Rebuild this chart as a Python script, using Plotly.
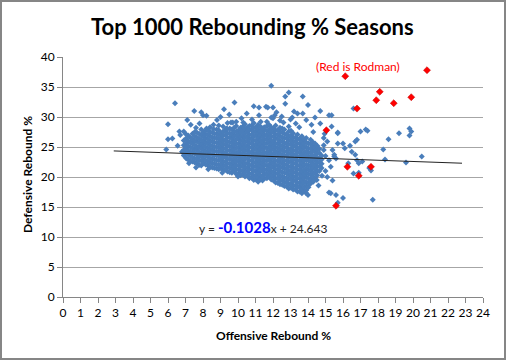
import plotly.graph_objects as go

# ---------------- data ----------------
# Dense core of the cloud: (offensive reb %, [defensive reb % values])
core_columns = [
    (6.9,  [23.6, 24.5, 25.3, 26.1]),
    (7.03, [23.2, 24.0, 24.8, 25.6, 26.4]),
    (7.15, [22.9, 23.8, 24.4, 25.2, 26.0, 26.9]),
    (7.28, [22.7, 23.5, 24.2, 25.0, 25.8, 26.6]),
    (7.4,  [22.6, 23.3, 24.1, 24.8, 25.6, 26.3, 27.2]),
    (7.53, [22.4, 23.1, 23.9, 24.6, 25.3, 26.0, 26.8, 27.5]),
    (7.65, [22.3, 23.0, 23.7, 24.5, 25.1, 25.9, 26.6, 27.4]),
    (7.78, [22.0, 22.8, 23.5, 24.2, 25.0, 25.7, 26.4, 27.2]),
    (7.9,  [21.9, 22.7, 23.4, 24.0, 24.8, 25.5, 26.2, 27.0, 27.9]),
    (8.03, [22.3, 23.0, 23.8, 24.5, 25.2, 25.9, 26.7, 27.4]),
    (8.15, [22.1, 22.8, 23.5, 24.3, 25.0, 25.7, 26.4, 27.1, 27.7]),
    (8.28, [21.9, 22.6, 23.4, 24.1, 24.8, 25.6, 26.3, 27.0, 27.8]),
    (8.4,  [21.7, 22.4, 23.1, 23.9, 24.6, 25.3, 26.0, 26.8, 27.5, 28.3]),
    (8.53, [21.6, 22.3, 23.0, 23.7, 24.5, 25.2, 25.9, 26.6, 27.4]),
    (8.65, [21.5, 22.2, 22.9, 23.6, 24.3, 25.0, 25.8, 26.5, 27.2]),
    (8.78, [21.4, 22.1, 22.8, 23.6, 24.3, 25.0, 25.7, 26.5, 27.2, 27.9]),
    (8.9,  [21.3, 22.0, 22.8, 23.5, 24.2, 24.9, 25.6, 26.3, 27.0, 27.8]),
    (9.03, [21.5, 22.2, 22.9, 23.6, 24.4, 25.1, 25.8, 26.5, 27.3]),
    (9.15, [21.1, 21.8, 22.5, 23.2, 24.0, 24.7, 25.4, 26.1, 26.9, 27.6, 28.4]),
    (9.28, [21.2, 21.9, 22.6, 23.4, 24.1, 24.8, 25.5, 26.2, 27.0, 27.7]),
    (9.4,  [20.9, 21.6, 22.3, 23.0, 23.7, 24.4, 25.2, 25.9, 26.6, 27.3, 28.0]),
    (9.53, [20.8, 21.5, 22.2, 23.0, 23.7, 24.4, 25.1, 25.8, 26.6, 27.3, 28.1]),
    (9.65, [20.7, 21.4, 22.1, 22.8, 23.6, 24.3, 25.0, 25.7, 26.4, 27.1, 27.9]),
    (9.78, [21.0, 21.7, 22.4, 23.1, 23.9, 24.6, 25.3, 26.0, 26.8, 27.5, 28.2]),
    (9.9,  [20.5, 21.2, 21.9, 22.6, 23.3, 24.0, 24.8, 25.5, 26.2, 26.9, 27.6, 28.5]),
    (10.03, [20.6, 21.3, 22.0, 22.8, 23.5, 24.2, 24.9, 25.6, 26.4, 27.1, 27.8]),
    (10.15, [20.3, 21.0, 21.7, 22.4, 23.1, 23.9, 24.6, 25.3, 26.0, 26.7, 27.5, 28.2]),
    (10.28, [20.4, 21.1, 21.9, 22.6, 23.3, 24.0, 24.8, 25.5, 26.2, 26.9, 27.7, 28.4]),
    (10.4, [20.1, 20.8, 21.5, 22.2, 23.0, 23.7, 24.4, 25.1, 25.8, 26.6, 27.3, 28.0, 28.8]),
    (10.53, [20.2, 20.9, 21.6, 22.3, 23.1, 23.8, 24.5, 25.2, 26.0, 26.7, 27.4, 28.2]),
    (10.65, [19.8, 20.5, 21.3, 22.0, 22.7, 23.4, 24.1, 24.9, 25.6, 26.3, 27.0, 27.8, 28.5]),
    (10.78, [19.9, 20.6, 21.3, 22.0, 22.8, 23.5, 24.2, 24.9, 25.7, 26.4, 27.1, 27.9, 28.6]),
    (10.9, [19.5, 20.2, 21.0, 21.7, 22.4, 23.2, 23.9, 24.6, 25.3, 26.1, 26.8, 27.5, 28.2, 29.0]),
    (11.03, [19.6, 20.3, 21.0, 21.8, 22.5, 23.2, 23.9, 24.7, 25.4, 26.1, 26.9, 27.6, 28.3]),
    (11.15, [19.2, 19.9, 20.7, 21.4, 22.1, 22.9, 23.6, 24.3, 25.0, 25.8, 26.5, 27.2, 27.9, 28.7]),
    (11.28, [19.6, 20.3, 21.1, 21.8, 22.5, 23.2, 24.0, 24.7, 25.4, 26.2, 26.9, 27.6, 28.4]),
    (11.4, [19.4, 20.1, 20.9, 21.6, 22.3, 23.0, 23.8, 24.5, 25.2, 25.9, 26.7, 27.4, 28.1]),
    (11.53, [19.8, 20.5, 21.2, 22.0, 22.7, 23.4, 24.1, 24.9, 25.6, 26.3, 27.0, 27.8]),
    (11.65, [19.8, 20.5, 21.2, 21.9, 22.7, 23.4, 24.1, 24.8, 25.6, 26.3, 27.0, 27.7, 28.5, 29.2]),
    (11.78, [20.0, 20.7, 21.4, 22.1, 22.9, 23.6, 24.3, 25.0, 25.8, 26.5, 27.2, 27.9, 28.7]),
    (11.9, [19.6, 20.3, 21.0, 21.8, 22.5, 23.2, 23.9, 24.7, 25.4, 26.1, 26.8, 27.6, 28.3]),
    (12.03, [19.4, 20.1, 20.8, 21.6, 22.3, 23.0, 23.7, 24.5, 25.2, 25.9, 26.7, 27.4, 28.1]),
    (12.15, [19.1, 19.8, 20.6, 21.3, 22.0, 22.7, 23.5, 24.2, 24.9, 25.6, 26.4, 27.1, 27.8, 28.6]),
    (12.28, [19.0, 19.8, 20.5, 21.2, 21.9, 22.7, 23.4, 24.1, 24.8, 25.6, 26.3, 27.0, 27.8]),
    (12.4, [18.8, 19.5, 20.2, 21.0, 21.7, 22.4, 23.1, 23.9, 24.6, 25.3, 26.0, 26.8, 27.5, 28.2]),
    (12.53, [18.7, 19.4, 20.1, 20.8, 21.6, 22.3, 23.0, 23.7, 24.5, 25.2, 25.9, 26.6, 27.4, 28.1]),
    (12.65, [18.5, 19.2, 19.9, 20.7, 21.4, 22.1, 22.8, 23.6, 24.3, 25.0, 25.7, 26.5, 27.2, 27.9]),
    (12.78, [18.4, 19.1, 19.8, 20.6, 21.3, 22.0, 22.7, 23.5, 24.2, 24.9, 25.6, 26.4, 27.1]),
    (12.9, [18.1, 18.8, 19.6, 20.3, 21.0, 21.7, 22.5, 23.2, 23.9, 24.6, 25.4, 26.1, 26.8, 27.6, 28.4]),
    (13.03, [18.2, 18.9, 19.7, 20.4, 21.1, 21.8, 22.6, 23.3, 24.0, 24.7, 25.5, 26.2, 26.9, 27.7]),
    (13.15, [17.9, 18.6, 19.3, 20.0, 20.8, 21.5, 22.2, 22.9, 23.7, 24.4, 25.1, 25.8, 26.6, 27.3]),
    (13.28, [17.9, 18.6, 19.4, 20.1, 20.8, 21.5, 22.3, 23.0, 23.7, 24.4, 25.2, 25.9, 26.6]),
    (13.4, [17.6, 18.3, 19.0, 19.8, 20.5, 21.2, 21.9, 22.7, 23.4, 24.1, 24.8, 25.6, 26.3, 27.1]),
    (13.53, [17.6, 18.4, 19.1, 19.8, 20.5, 21.3, 22.0, 22.7, 23.4, 24.2, 24.9, 25.6, 26.4]),
    (13.65, [17.3, 18.0, 18.8, 19.5, 20.2, 20.9, 21.7, 22.4, 23.1, 23.8, 24.6, 25.3, 26.0, 26.8]),
    (13.78, [17.6, 18.3, 19.1, 19.8, 20.5, 21.2, 22.0, 22.7, 23.4, 24.1, 24.9, 25.6, 26.3]),
    (13.9, [17.8, 18.5, 19.2, 20.0, 20.7, 21.4, 22.1, 22.9, 23.6, 24.3, 25.0, 25.8, 26.5]),
    (14.03, [18.3, 19.0, 19.8, 20.5, 21.2, 21.9, 22.7, 23.4, 24.1, 24.8, 25.6]),
    (14.15, [18.9, 19.6, 20.4, 21.1, 21.8, 22.5, 23.3, 24.0, 24.7, 25.5, 26.2]),
    (14.28, [19.3, 20.0, 20.7, 21.5, 22.2, 22.9, 23.6, 24.4, 25.1, 25.8]),
    (14.4, [19.8, 20.6, 21.3, 22.0, 22.8, 23.5, 24.2, 24.9, 25.6]),
    (14.53, [20.3, 21.0, 21.7, 22.4, 23.1, 23.9, 24.6, 25.2]),
    (14.65, [21.0, 21.8, 22.5, 23.2, 24.0, 24.7]),
    (14.78, [21.5, 22.2, 22.9, 23.6]),
]

# Scattered (fringe) seasons around the core
fringe_x = [5.9, 6.0, 6.25, 6.0, 6.4, 6.65, 6.7, 6.55, 6.8, 7.2, 7.05, 7.5, 7.9, 8.0, 8.2,
            7.1, 7.3, 7.8, 8.6, 8.6, 9.2, 9.0, 9.5, 9.8, 9.6, 9.7, 10.2, 10.3, 10.9, 11.2,
            11.2, 11.6, 8.8, 8.2, 6.9, 7.0, 7.6, 9.35, 10.2, 10.6, 11.3, 11.5, 12.0,
            11.9, 12.9, 12.7, 13.7, 12.7, 14.0, 14.7, 15.2, 11.7, 12.0, 13.2, 13.4, 13.7,
            12.1, 14.2, 14.7, 15.7, 12.5, 13.0, 13.9, 14.4, 13.1, 12.4,
            16.6, 15.35, 15.35, 15.7, 15.7, 16.0, 16.1, 16.4, 16.7, 16.8, 16.5, 16.7, 17.0,
            17.3, 17.4, 15.5, 15.6, 15.3, 16.3, 16.8, 16.9, 17.1, 17.5, 17.6, 16.6, 16.9,
            15.4, 15.3, 15.6, 16.0, 15.7, 17.7, 18.3, 18.4, 18.6, 19.2, 19.8, 19.9, 19.8,
            19.6, 20.5, 14.9, 15.0, 15.2, 15.0, 14.8, 14.5, 14.3, 14.1, 13.9, 15.2, 14.9,
            15.1, 15.4, 15.5, 14.95, 7.6, 8.3, 9.1, 10.0, 14.0, 14.6, 15.1,
            8.9, 9.9, 10.8, 11.9, 12.6, 13.5, 14.3, 14.9, 13.3, 12.2, 10.5, 9.4]
fringe_y = [24.6, 26.3, 26.4, 28.8, 32.3, 27.6, 27.0, 25.2, 24.2, 22.3, 23.1, 31.0, 30.8, 30.3, 30.2,
            29.5, 28.7, 28.9, 28.7, 28.0, 31.3, 30.0, 30.4, 32.4, 29.1, 29.1, 29.8, 29.1, 31.8, 31.6,
            30.3, 31.7, 29.5, 28.1, 27.6, 27.2, 28.2, 28.1, 27.6, 27.8, 29.2, 28.3, 29.8,
            35.2, 34.1, 33.4, 33.4, 32.2, 32.0, 31.0, 30.3, 31.6, 31.6, 30.9, 30.6, 30.6,
            30.3, 28.7, 28.9, 27.4, 30.1, 29.6, 29.5, 29.9, 29.9, 29.4,
            31.4, 30.3, 28.4, 27.3, 25.6, 25.6, 24.8, 25.2, 25.9, 26.2, 24.2, 23.7, 27.6,
            27.9, 27.7, 23.7, 23.1, 21.7, 22.3, 22.8, 22.3, 22.6, 21.5, 21.1, 20.6, 20.7,
            19.4, 17.3, 17.0, 16.5, 15.7, 16.2, 24.6, 22.9, 26.3, 27.3, 28.1, 27.6, 26.9,
            22.4, 23.4, 24.5, 23.5, 22.8, 21.0, 20.2, 19.5, 19.2, 18.9, 17.3, 17.4, 26.5,
            25.9, 24.5, 23.4, 27.2, 21.6, 21.3, 20.7, 20.1, 17.0, 18.6, 20.0,
            28.6, 29.2, 29.6, 29.9, 29.1, 28.3, 27.5, 25.3, 28.9, 30.8, 30.6, 29.0]

# Dennis Rodman seasons (red)
rodman_x = [20.8, 16.13, 18.1, 17.9, 19.9, 18.9, 16.8, 15.05, 16.25, 17.6, 16.9, 15.6]
rodman_y = [37.8, 36.8, 34.2, 32.8, 33.3, 32.3, 31.4, 27.8, 21.7, 21.7, 20.2, 15.2]

# Linear trendline (from the displayed equation) and its drawn extent
trend_slope = -0.1028
trend_intercept = 24.643
trend_x = [2.9, 22.8]

x_ticks = list(range(0, 25))
y_ticks = list(range(0, 45, 5))

# ---------------- build ----------------
blue_x, blue_y = [], []
for cx, ys in core_columns:
    for yv in ys:
        blue_x.append(cx)
        blue_y.append(yv)
blue_x += fringe_x
blue_y += fringe_y

trend_y = [trend_slope * v + trend_intercept for v in trend_x]

FONT = "Lato"
BLUE = "#4A7EBB"

fig = go.Figure()
fig.add_trace(go.Scatter(x=blue_x, y=blue_y, mode="markers",
                         marker=dict(symbol="diamond", size=4.6, color=BLUE,
                                     line=dict(width=0)),
                         hoverinfo="x+y", showlegend=False))
fig.add_trace(go.Scatter(x=rodman_x, y=rodman_y, mode="markers",
                         marker=dict(symbol="diamond", size=5.4, color="#FF0000",
                                     line=dict(width=0.5, color="#C00000")),
                         showlegend=False))
fig.add_trace(go.Scatter(x=trend_x, y=trend_y, mode="lines",
                         line=dict(color="#222222", width=1), showlegend=False))

PL, PR, PT, PB = 63, 23, 57, 63
PW, PH = 506 - PL - PR, 360 - PT - PB


def px(xp):
    return (xp - PL) / PW


def py(yp):
    return (PT + PH - yp) / PH


fig.update_layout(
    width=506, height=360,
    margin=dict(l=PL, r=PR, t=PT, b=PB, pad=0),
    paper_bgcolor="white", plot_bgcolor="white",
    font=dict(family=FONT, color="#000000", size=12),
    xaxis=dict(range=[0, 24], tickvals=x_ticks, ticktext=[str(v) for v in x_ticks],
               showgrid=False, zeroline=False, showline=True, linecolor="#868686",
               linewidth=1, ticks="outside", ticklen=5, tickcolor="#868686",
               tickfont=dict(family=FONT, size=12, color="#000000"), fixedrange=True),
    yaxis=dict(range=[0, 40], tickvals=y_ticks, ticktext=[str(v) for v in y_ticks],
               showgrid=True, gridcolor="#A6A6A6", gridwidth=1, zeroline=False,
               showline=True, linecolor="#868686", linewidth=1, ticks="outside",
               ticklen=5, tickcolor="#868686",
               tickfont=dict(family=FONT, size=12, color="#000000"), fixedrange=True),
    shapes=[dict(type="rect", xref="paper", yref="paper",
                 x0=px(1), x1=px(505), y0=py(359), y1=py(1),
                 line=dict(color="#868686", width=2), fillcolor="rgba(0,0,0,0)",
                 layer="above")],
    annotations=[
        dict(text="<b>Top 1000 Rebounding % Seasons</b>", xref="paper", yref="paper",
             x=px(252), y=py(26), xanchor="center", yanchor="middle", showarrow=False,
             font=dict(family=FONT, size=22, color="#000000")),
        dict(text="<b>Offensive Rebound %</b>", xref="paper", yref="paper",
             x=px(273), y=py(335), xanchor="center", yanchor="middle", showarrow=False,
             font=dict(family=FONT, size=12, color="#000000")),
        dict(text="<b>Defensive Rebound %</b>", xref="paper", yref="paper",
             x=px(27), y=py(175), xanchor="center", yanchor="middle", showarrow=False,
             textangle=-90, font=dict(family=FONT, size=12, color="#000000")),
        dict(text="(Red is Rodman)", xref="paper", yref="paper",
             x=px(358), y=py(66), xanchor="center", yanchor="middle", showarrow=False,
             font=dict(family=FONT, size=12, color="#FF0000")),
        dict(text="y = <b><span style='color:#0000FF;font-size:15px'>-0.1028</span></b>x + 24.643",
             xref="paper", yref="paper", x=px(263), y=py(227), xanchor="center",
             yanchor="middle", showarrow=False,
             font=dict(family=FONT, size=12, color="#222222")),
    ],
)

fig.write_html("out.html", config={"displayModeBar": False},
               post_script="document.body.style.margin='0';document.body.style.padding='0';")
